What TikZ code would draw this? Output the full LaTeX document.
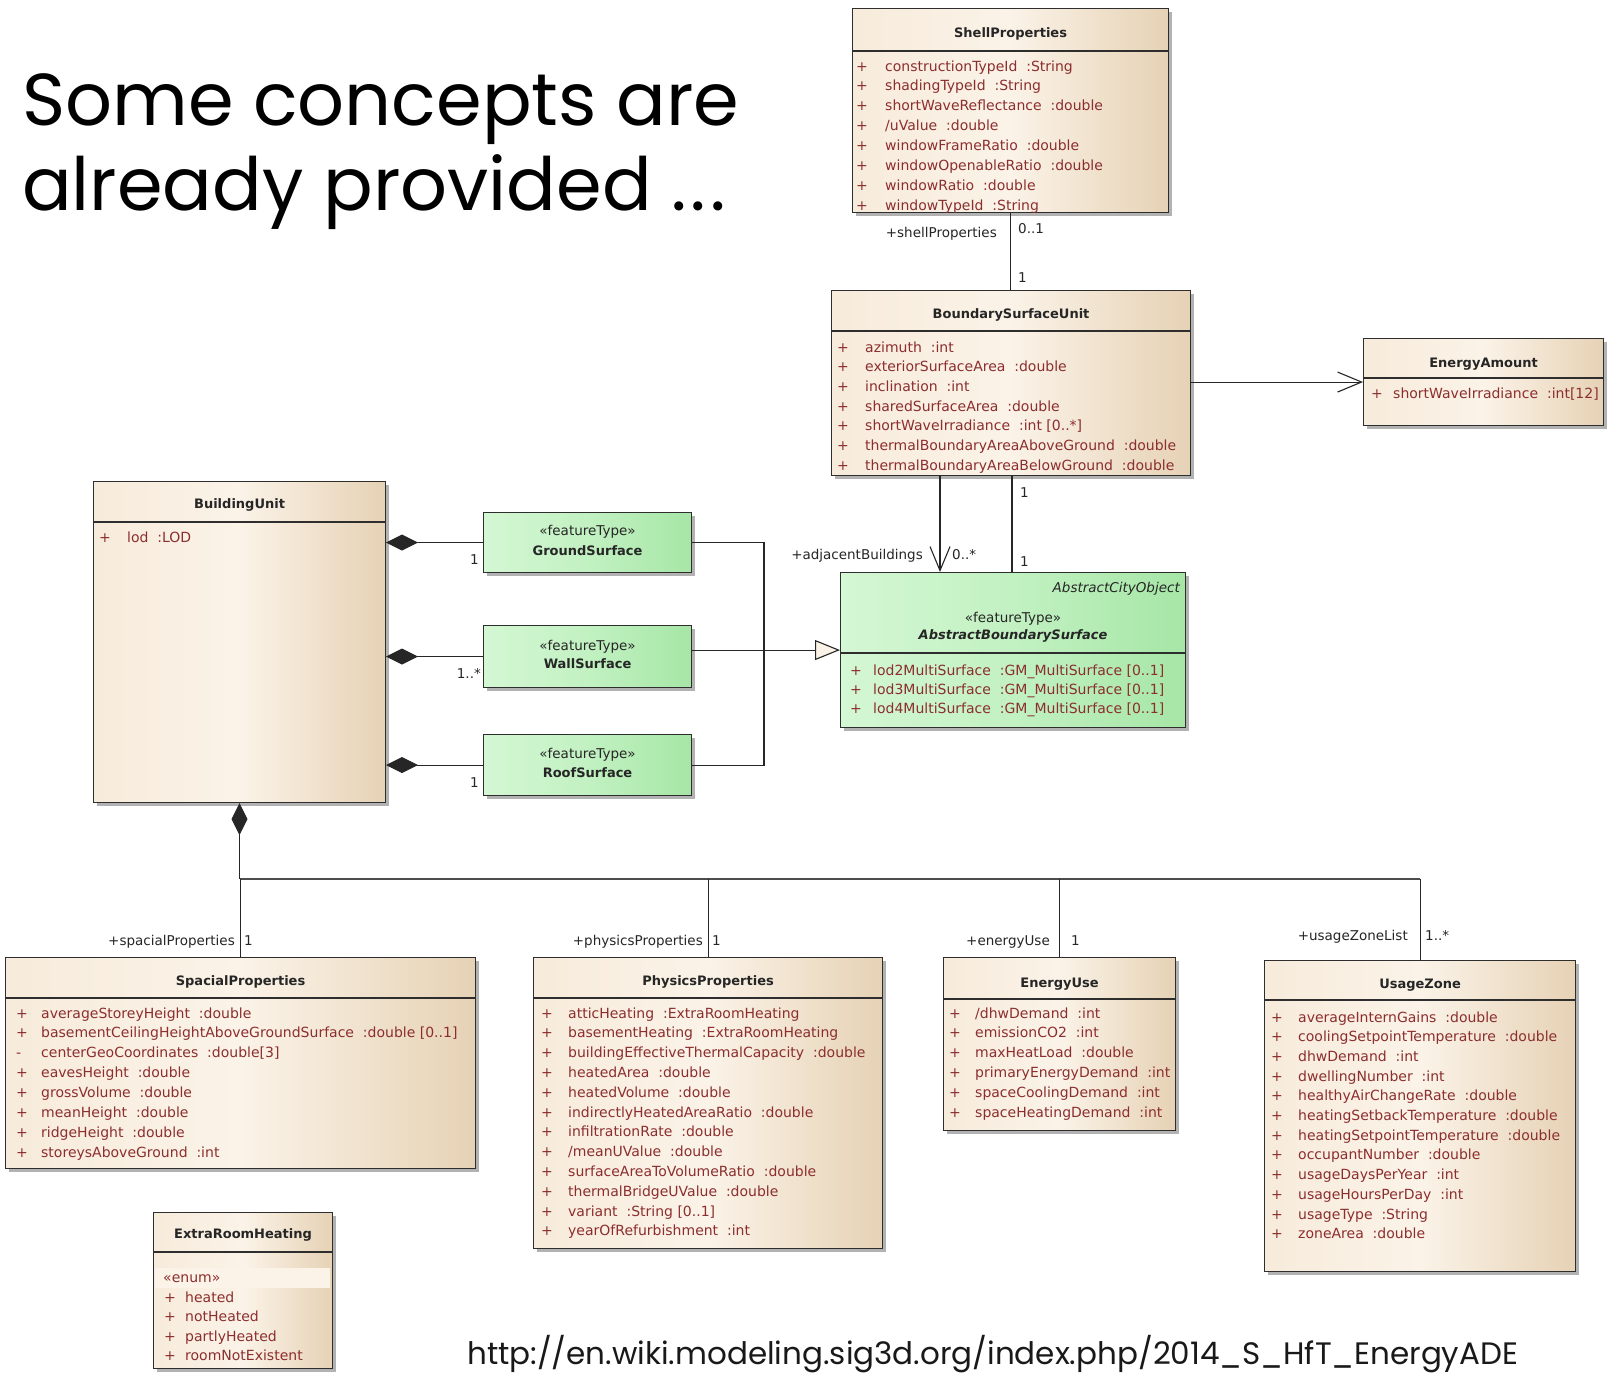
\documentclass[tikz,border=0pt]{standalone}
\usepackage{fontspec}
\setmainfont{DejaVu Sans}
\newfontfamily\titlefont{Poppins}
\usetikzlibrary{arrows.meta,shadows}

\definecolor{cL}{HTML}{F7EBDB}
\definecolor{cM}{HTML}{FBF3E8}
\definecolor{cR}{HTML}{E6D2B5}
\definecolor{gL}{HTML}{D4F7D4}
\definecolor{gM}{HTML}{C2F1C2}
\definecolor{gR}{HTML}{A6E6A6}
\definecolor{edge}{HTML}{2E2E2E}
\definecolor{attrc}{HTML}{8C2E2E}

\tikzset{
  box/.style={draw=edge, line width=1.1pt, rectangle, inner sep=0pt, anchor=north west,
    drop shadow={shadow xshift=3pt, shadow yshift=-3pt, opacity=.3, fill=black}},
  cls/.style={box, left color=cL, right color=cR, middle color=cM},
  gcls/.style={box, left color=gL, right color=gR, middle color=gM},
  sepst/.style={draw=edge, line width=1.1pt},
  ttl/.style={font=\bfseries\fontsize{13}{15}\selectfont, text=black!85, inner sep=0pt, anchor=base},
  attr/.style={font=\fontsize{14}{16}\selectfont, text=attrc, inner sep=0pt, anchor=base west},
  lbl/.style={font=\fontsize{13.5}{16}\selectfont, text=black!85, inner sep=0pt},
  stereo/.style={font=\fontsize{13.5}{16}\selectfont, text=black!85, inner sep=0pt, anchor=base},
  conn/.style={draw=black!85, line width=1.1pt},
  busst/.style={draw=black!70, line width=2.2pt},
  nav/.style={-{Straight Barb[length=24pt,width=20pt]}},
  gen/.style={-{Triangle[length=25pt,width=20pt,fill=cM]}},
  comp/.style={{Diamond[length=32pt,width=16pt]}-},
  bigtext/.style={font=\titlefont\fontsize{73.5}{80}\selectfont, text=black, inner sep=0pt, anchor=base west},
  urltext/.style={font=\titlefont\fontsize{31}{33}\selectfont, text=black!90, inner sep=0pt, anchor=base west}
}

\newcommand\umlbox[6]{%
  \node[#6, minimum width={#4-#2}, minimum height={#5-#3}] (#1) at (#2,#3) {};}
\newcommand\sepline[2]{\draw[sepst] (#1.west |- 0,#2) -- (#1.east |- 0,#2);}
\newcommand\attrlist[6]{%
  \foreach \s/\t [count=\i from 0] in {#6} {
    \node[attr] (#1s\i) at (#2, #4+#5*\i) {\s};
    \node[attr] (#1t\i) at (#3, #4+#5*\i) {\t};
  }}

\begin{document}
\begin{tikzpicture}[x=1pt,y=-1pt]
\useasboundingbox (0,0) rectangle (1607,1374);
\fill[white] (0,0) rectangle (1607,1374);
\clip (0,0) rectangle (1607,1374);

% title and URL
\node[bigtext] (title1) at (22,125) {Some concepts are};
\node[bigtext] (title2) at (22,210) {already provided .\kern4pt.\kern4pt.};
\node[urltext] (url) at (467,1364) {http://en.wiki.modeling.sig3d.org/index.php/2014\_S\_HfT\_EnergyADE};

% ---------- boxes ----------
\umlbox{shell}{852}{8}{1168}{212}{cls}
\sepline{shell}{51}
\node[ttl] (shellT) at (shell.north |- 0,37) {ShellProperties};
\attrlist{sh}{856}{885}{71}{19.86}{+/constructionTypeId~~:String, +/shadingTypeId~~:String, +/shortWaveReflectance~~:double, +/{/}uValue~~:double, +/windowFrameRatio~~:double, +/windowOpenableRatio~~:double, +/windowRatio~~:double, +/windowTypeId~~:String}

\umlbox{bsu}{831}{290}{1190}{475}{cls}
\sepline{bsu}{331}
\node[ttl] (bsuT) at (bsu.north |- 0,318) {BoundarySurfaceUnit};
\attrlist{bs}{837}{865}{352}{19.67}{+/azimuth~~:int, +/exteriorSurfaceArea~~:double, +/inclination~~:int, +/sharedSurfaceArea~~:double, +/shortWaveIrradiance~~:int [0..*], +/thermalBoundaryAreaAboveGround~~:double, +/thermalBoundaryAreaBelowGround~~:double}

\umlbox{ea}{1363}{338}{1603}{425}{cls}
\sepline{ea}{378}
\node[ttl] (eaT) at (ea.north |- 0,367) {EnergyAmount};
\attrlist{ea}{1371}{1393}{398}{19.7}{+/shortWaveIrradiance~~:int[12]}

\umlbox{bu}{93}{481}{385}{802}{cls}
\sepline{bu}{522}
\node[ttl] (buT) at (bu.north |- 0,508) {BuildingUnit};
\attrlist{bu}{99}{127}{542}{19.7}{+/lod~~:LOD}

\umlbox{gr}{483}{512}{691}{572}{gcls}
\node[stereo] (grS) at (gr.north |- 0,535) {«featureType»};
\node[ttl] (grT) at (gr.north |- 0,555) {GroundSurface};

\umlbox{wl}{483}{625}{691}{687}{gcls}
\node[stereo] (wlS) at (wl.north |- 0,650) {«featureType»};
\node[ttl] (wlT) at (wl.north |- 0,668) {WallSurface};

\umlbox{rf}{483}{734}{691}{795}{gcls}
\node[stereo] (rfS) at (rf.north |- 0,758) {«featureType»};
\node[ttl] (rfT) at (rf.north |- 0,777) {RoofSurface};

\umlbox{abs}{840}{572}{1185}{727}{gcls}
\sepline{abs}{653}
\node[lbl, font=\itshape\fontsize{13.5}{16}\selectfont, anchor=base east] (absP) at (1180,592) {AbstractCityObject};
\node[stereo] (absS) at (abs.north |- 0,622) {«featureType»};
\node[ttl, font=\bfseries\itshape\fontsize{13}{15}\selectfont] (absT) at (abs.north |- 0,639) {AbstractBoundarySurface};
\attrlist{ab}{850}{873}{675}{19.3}{+/lod2MultiSurface~~:GM\_MultiSurface [0..1], +/lod3MultiSurface~~:GM\_MultiSurface [0..1], +/lod4MultiSurface~~:GM\_MultiSurface [0..1]}

\umlbox{sp}{5}{957}{475}{1168}{cls}
\sepline{sp}{998}
\node[ttl] (spT) at (sp.north |- 0,985) {SpacialProperties};
\attrlist{sp}{16}{41}{1018}{19.86}{+/averageStoreyHeight~~:double, +/basementCeilingHeightAboveGroundSurface~~:double [0..1], -/centerGeoCoordinates~~:double[3], +/eavesHeight~~:double, +/grossVolume~~:double, +/meanHeight~~:double, +/ridgeHeight~~:double, +/storeysAboveGround~~:int}

\umlbox{pp}{533}{957}{882}{1248}{cls}
\sepline{pp}{998}
\node[ttl] (ppT) at (pp.north |- 0,985) {PhysicsProperties};
\attrlist{pp}{541}{568}{1018}{19.8}{+/atticHeating~~:ExtraRoomHeating, +/basementHeating~~:ExtraRoomHeating, +/buildingEffectiveThermalCapacity~~:double, +/heatedArea~~:double, +/heatedVolume~~:double, +/indirectlyHeatedAreaRatio~~:double, +/infiltrationRate~~:double, +/{/}meanUValue~~:double, +/surfaceAreaToVolumeRatio~~:double, +/thermalBridgeUValue~~:double, +/variant~~:String [0..1], +/yearOfRefurbishment~~:int}

\umlbox{eu}{943}{957}{1175}{1130}{cls}
\sepline{eu}{999}
\node[ttl] (euT) at (eu.north |- 0,987) {EnergyUse};
\attrlist{eu}{949}{975}{1018}{19.8}{+/{/}dhwDemand~~:int, +/emissionCO2~~:int, +/maxHeatLoad~~:double, +/primaryEnergyDemand~~:int, +/spaceCoolingDemand~~:int, +/spaceHeatingDemand~~:int}

\umlbox{uz}{1264}{960}{1575}{1271}{cls}
\sepline{uz}{1000}
\node[ttl] (uzT) at (uz.north |- 0,988) {UsageZone};
\attrlist{uz}{1271}{1298}{1022}{19.7}{+/averageInternGains~~:double, +/coolingSetpointTemperature~~:double, +/dhwDemand~~:int, +/dwellingNumber~~:int, +/healthyAirChangeRate~~:double, +/heatingSetbackTemperature~~:double, +/heatingSetpointTemperature~~:double, +/occupantNumber~~:double, +/usageDaysPerYear~~:int, +/usageHoursPerDay~~:int, +/usageType~~:String, +/zoneArea~~:double}

\umlbox{erh}{153}{1212}{332}{1368}{cls}
\sepline{erh}{1252}
\fill[cM] (155,1268) rectangle (330,1288);
\node[ttl] (erhT) at (erh.north |- 0,1238) {ExtraRoomHeating};
\node[attr] (erhE) at (163,1282) {«enum»};
\attrlist{er}{164}{185}{1302}{19.5}{+/heated, +/notHeated, +/partlyHeated, +/roomNotExistent}

% ---------- connectors ----------
\draw[conn] (shell.south) -- (shell.south |- bsu.north);
\node[lbl, anchor=base east] (l1) at (997,237) {+shellProperties};
\node[lbl, anchor=base west] (l2) at (1018,233) {0..1};
\node[lbl, anchor=base west] (l3) at (1018,282) {1};

\draw[conn, nav] (bsu.east |- ea.west) -- (ea.west);

\draw[conn, nav] (bsu.south -| 940,0) -- (abs.north -| 940,0);
\draw[conn] (bsu.south -| 1012,0) -- (abs.north -| 1012,0);
\node[lbl, anchor=base east] (l4) at (923,559) {+adjacentBuildings};
\node[lbl, anchor=base west] (l5) at (952,559) {0..*};
\node[lbl, anchor=base west] (l6) at (1020,497) {1};
\node[lbl, anchor=base west] (l7) at (1020,566) {1};

\draw[conn, comp] (bu.east |- gr.west) -- (gr.west);
\draw[conn, comp] (bu.east |- wl.west) -- (wl.west);
\draw[conn, comp] (bu.east |- rf.west) -- (rf.west);
\node[lbl, anchor=base east] (l8) at (479,564) {1};
\node[lbl, anchor=base east] (l9) at (481,678) {1..*};
\node[lbl, anchor=base east] (l10) at (479,787) {1};

\coordinate (gj) at (764,649);
\draw[conn] (gr.east) -| (gj) |- (rf.east);
\draw[conn, gen] (wl.east |- abs.west) -- (abs.west);

\coordinate (busL) at (bu.south |- 0,879);
\coordinate (busR) at (uz.north |- 0,879);
\draw[conn, comp] (bu.south) -- (busL);
\draw[busst] (busL) -- (busR);
\draw[conn] (sp.north |- busL) -- (sp.north);
\draw[conn] (pp.north |- busL) -- (pp.north);
\draw[conn] (eu.north |- busL) -- (eu.north);
\draw[conn] (uz.north |- busL) -- (uz.north);

\node[lbl, anchor=base east] (l11) at (235,945) {+spacialProperties};
\node[lbl, anchor=base west] (l12) at (244,945) {1};
\node[lbl, anchor=base east] (l13) at (703,945) {+physicsProperties};
\node[lbl, anchor=base west] (l14) at (712,945) {1};
\node[lbl, anchor=base east] (l15) at (1050,945) {+energyUse};
\node[lbl, anchor=base west] (l16) at (1071,945) {1};
\node[lbl, anchor=base east] (l17) at (1408,940) {+usageZoneList};
\node[lbl, anchor=base west] (l18) at (1425,940) {1..*};
\end{tikzpicture}
\end{document}
